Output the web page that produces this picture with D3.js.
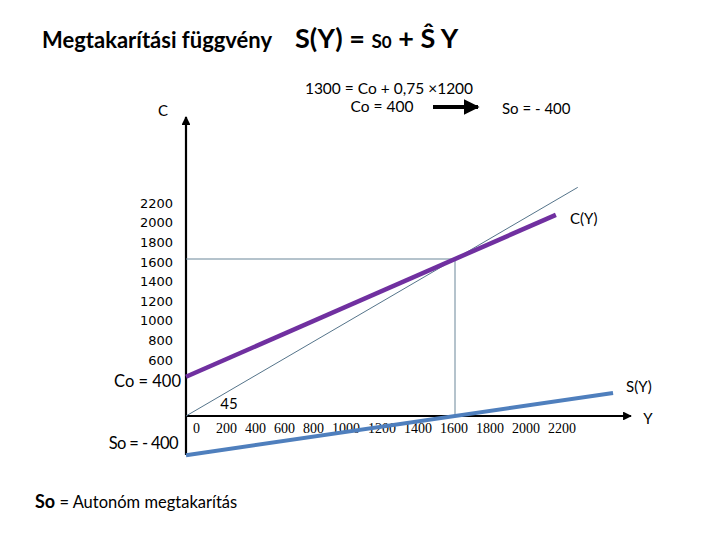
<!DOCTYPE html>
<html>
<head>
<meta charset="utf-8">
<script src="https://cdn.jsdelivr.net/npm/d3@7"></script>
<style>
  body { margin: 0; background: #fff; }
  text { font-family: Lato, "Open Sans", sans-serif; fill: #000; }
</style>
</head>
<body>
<div id="chart"></div>
<script>
////////////////////////////////////////////////////////////////
// Data

const yTickLabels = [2200, 2000, 1800, 1600, 1400, 1200, 1000, 800, 600];
const xTickLabels = [0, 200, 400, 600, 800, 1000, 1200, 1400, 1600, 1800, 2000, 2200];

// C(Y) = 400 + 0.75 Y, S(Y) = -400 + 0.25 Y, end points as drawn
const consumption = [[0, 400], [2200, 2050]];
const saving = [[0, -400], [2540, 235]];
const diagonal = [[0, 0], [2330, 2330]];
const equilibrium = [1600, 1600];

////////////////////////////////////////////////////////////////
// Setup

let svg = d3.select("#chart").append("svg")
  .attr("width", 720)
  .attr("height", 540);

let defs = svg.append("defs");
defs.append("marker")
  .attr("id", "head")
  .attr("viewBox", "0 0 10 10")
  .attr("refX", 9).attr("refY", 5)
  .attr("markerWidth", 4).attr("markerHeight", 4)
  .attr("orient", "auto")
  .append("path")
  .attr("d", "M0,0 L10,5 L0,10 z")
  .attr("fill", "#000");

let x = d3.scaleLinear().domain([0, 1600]).range([186, 455]);
let y = d3.scaleLinear().domain([0, 1600]).range([416, 259]);

let line = d3.line().x(d => x(d[0])).y(d => y(d[1]));

////////////////////////////////////////////////////////////////
// Title and equations

let title = svg.append("text").attr("x", 42).attr("y", 48);
title.append("tspan").attr("font-size", 22).attr("font-weight", "bold")
  .text("Megtakarítási függvény");
title.append("tspan").attr("x", 295).attr("font-size", 27).attr("font-weight", "bold")
  .text("S(Y) = ");
title.append("tspan").attr("font-size", 19).attr("font-weight", "bold").text("S");
title.append("tspan").attr("font-size", 17).attr("font-weight", "bold").text("0");
title.append("tspan").attr("font-size", 27).attr("font-weight", "bold").text(" + Ŝ Y");

svg.append("text")
  .attr("x", 389).attr("y", 94)
  .attr("text-anchor", "middle")
  .attr("font-size", 15.5)
  .text("1300 = Co + 0,75 ×1200");

svg.append("text")
  .attr("x", 382).attr("y", 112)
  .attr("text-anchor", "middle")
  .attr("font-size", 15.5)
  .text("Co = 400");

svg.append("line")
  .attr("x1", 433).attr("y1", 107)
  .attr("x2", 478).attr("y2", 107)
  .attr("stroke", "#000")
  .attr("stroke-width", 4)
  .attr("marker-end", "url(#head)");

svg.append("text")
  .attr("x", 502).attr("y", 114)
  .attr("font-size", 15)
  .text("So = - 400");

////////////////////////////////////////////////////////////////
// Axes

svg.append("line")
  .attr("x1", x(0)).attr("y1", 455)
  .attr("x2", x(0)).attr("y2", 117)
  .attr("stroke", "#000").attr("stroke-width", 2.2)
  .attr("marker-end", "url(#head)");

svg.append("line")
  .attr("x1", x(0)).attr("y1", y(0))
  .attr("x2", 631).attr("y2", y(0))
  .attr("stroke", "#000").attr("stroke-width", 2.2)
  .attr("marker-end", "url(#head)");

svg.append("text").attr("x", 163).attr("y", 116)
  .attr("text-anchor", "middle").attr("font-size", 15).text("C");

svg.append("text").attr("x", 648).attr("y", 424)
  .attr("text-anchor", "middle").attr("font-size", 15).text("Y");

// y tick labels
svg.selectAll(".ylab")
  .data(yTickLabels)
  .enter()
  .append("text")
  .attr("class", "ylab")
  .attr("x", 173)
  .attr("y", d => y(d) + 3)
  .attr("dy", "0.35em")
  .attr("text-anchor", "end")
  .attr("font-size", 13)
  .style("font-family", "'DejaVu Sans', sans-serif")
  .text(d => d);

// x tick labels, typed as one row like the original
let xlabs = svg.selectAll(".xlab")
  .data(xTickLabels)
  .enter()
  .append("text")
  .attr("class", "xlab")
  .attr("y", 433)
  .attr("font-size", 14)
  .style("font-family", "'Liberation Serif', serif")
  .text(d => d);

let pos = 193;
xlabs.each(function(d, i) {
  d3.select(this).attr("x", pos);
  pos += this.getComputedTextLength() + (i == 0 ? 16 : 8);
});

////////////////////////////////////////////////////////////////
// Lines

svg.append("path")
  .attr("d", line(diagonal))
  .attr("fill", "none")
  .attr("stroke", "#55748a")
  .attr("stroke-width", 1);

svg.append("path")
  .attr("d", line([[0, equilibrium[1]], equilibrium, [equilibrium[0], 0]]))
  .attr("fill", "none")
  .attr("stroke", "#6a8799")
  .attr("stroke-width", 1);

svg.append("path")
  .attr("d", line(consumption))
  .attr("fill", "none")
  .attr("stroke", "#7030a0")
  .attr("stroke-width", 4.5);

svg.append("path")
  .attr("d", line(saving))
  .attr("fill", "none")
  .attr("stroke", "#4f7fbd")
  .attr("stroke-width", 4);

svg.append("text").attr("x", 570).attr("y", 224)
  .attr("font-size", 15).text("C(Y)");

svg.append("text").attr("x", 626).attr("y", 392)
  .attr("font-size", 15).text("S(Y)");

svg.append("text").attr("x", 229).attr("y", 409)
  .attr("text-anchor", "middle").attr("font-size", 15).text("45");

svg.append("text").attr("x", 181).attr("y", 387)
  .attr("text-anchor", "end").attr("font-size", 16.5).text("Co = 400");

svg.append("text").attr("x", 178).attr("y", 449)
  .attr("text-anchor", "end").attr("font-size", 16.5)
  .attr("letter-spacing", -0.6).text("So = - 400");

// footnote
let note = svg.append("text").attr("x", 35).attr("y", 508);
note.append("tspan").attr("font-size", 18).attr("font-weight", "bold").text("So");
note.append("tspan").attr("font-size", 16.5).text(" = Autonóm megtakarítás");
</script>
</body>
</html>
